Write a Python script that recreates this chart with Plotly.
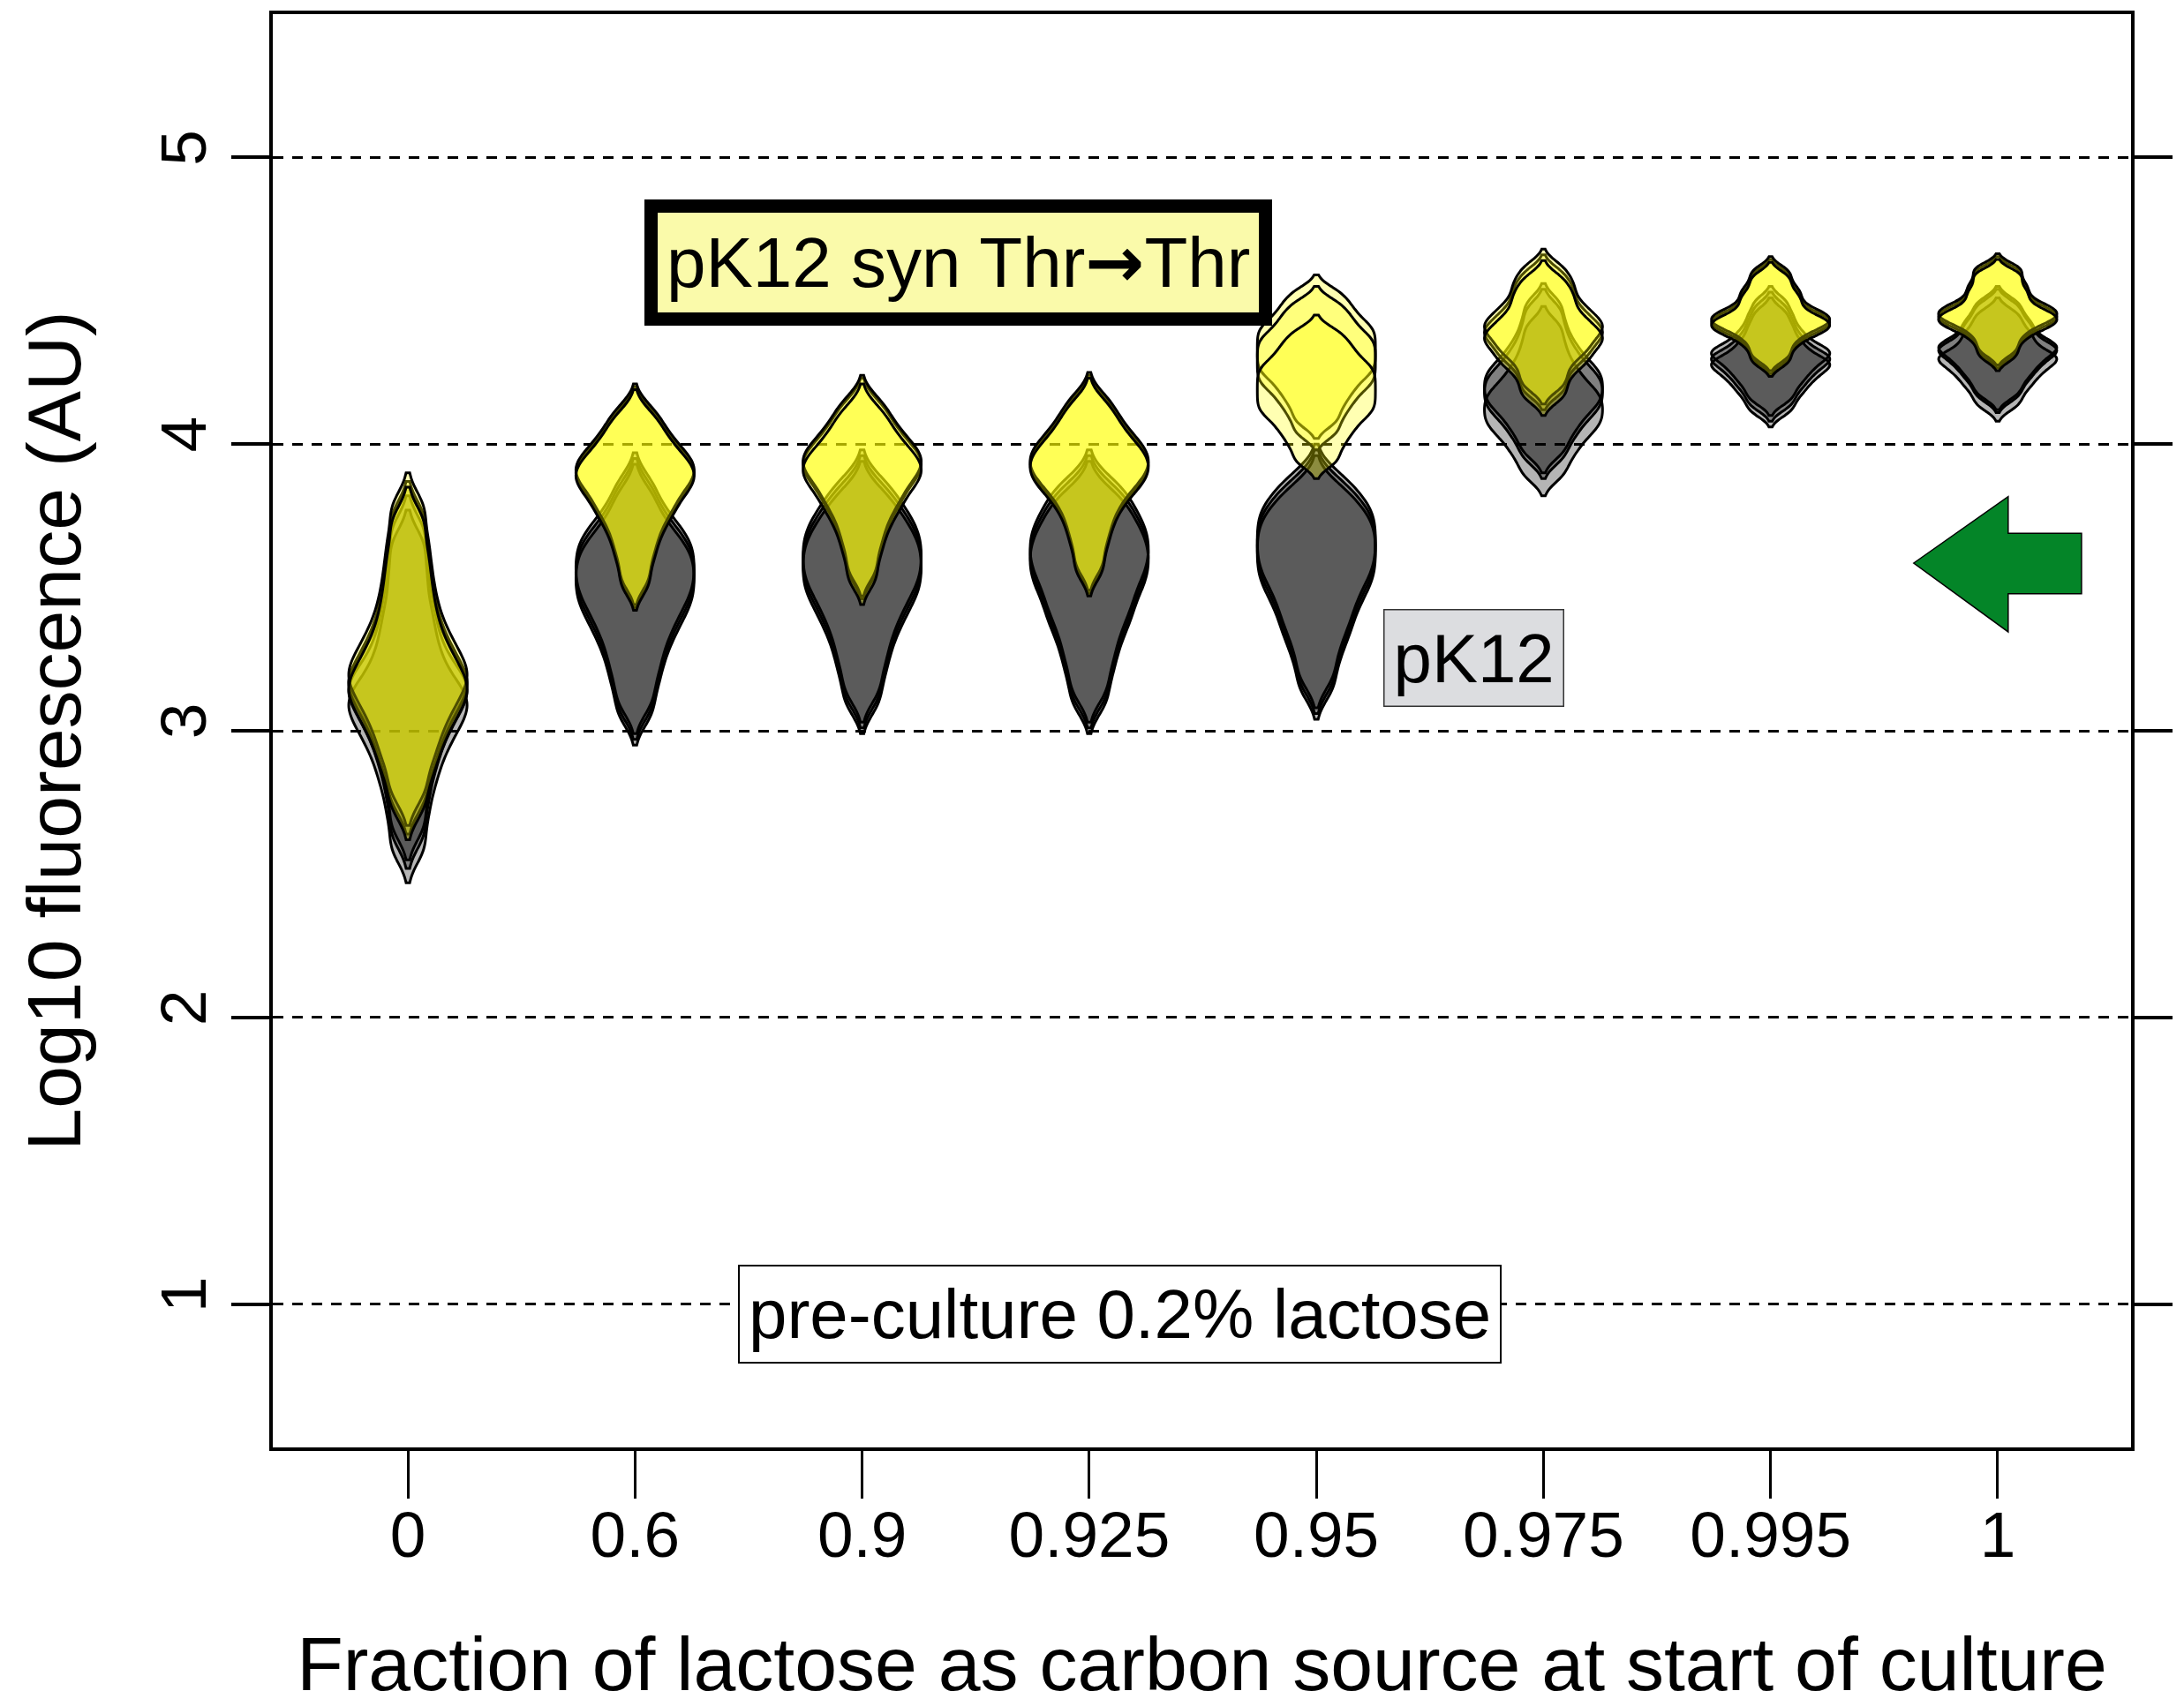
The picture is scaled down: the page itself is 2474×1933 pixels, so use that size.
import plotly.graph_objects as go

# Fraction of lactose in the medium at the start of culture
categories = ["0", "0.6", "0.9", "0.925", "0.95", "0.975", "0.995", "1"]

# Log10 fluorescence samples per condition, strain pK12
pk12_0 = [2.64, 2.75, 2.84, 2.91, 2.97, 3.02, 3.06, 3.10, 3.13, 3.16, 3.19, 3.23, 3.28, 3.34, 3.41, 3.49, 3.59, 3.70]
pk12_06 = [3.08, 3.17, 3.24, 3.30, 3.35, 3.39, 3.43, 3.46, 3.49, 3.52, 3.55, 3.58, 3.61, 3.64, 3.67, 3.71, 3.76, 3.84]
pk12_09 = [3.12, 3.21, 3.28, 3.34, 3.39, 3.43, 3.47, 3.50, 3.53, 3.56, 3.59, 3.62, 3.65, 3.68, 3.71, 3.75, 3.79, 3.85]
pk12_0925 = [3.12, 3.21, 3.28, 3.34, 3.39, 3.43, 3.47, 3.51, 3.54, 3.57, 3.60, 3.63, 3.66, 3.69, 3.72, 3.76, 3.80, 3.85]
pk12_095 = [3.17, 3.26, 3.33, 3.38, 3.43, 3.47, 3.51, 3.54, 3.57, 3.60, 3.63, 3.66, 3.69, 3.72, 3.75, 3.78, 3.82, 3.87]
pk12_0975 = [3.95, 4.00, 4.04, 4.07, 4.10, 4.12, 4.14, 4.16, 4.18, 4.20, 4.22, 4.24, 4.26, 4.29, 4.32, 4.36, 4.41, 4.47]
pk12_0995 = [4.13, 4.16, 4.19, 4.21, 4.23, 4.25, 4.26, 4.28, 4.29, 4.30, 4.31, 4.32, 4.34, 4.36, 4.38, 4.41, 4.44, 4.48]
pk12_1 = [4.16, 4.19, 4.22, 4.24, 4.26, 4.28, 4.29, 4.31, 4.32, 4.33, 4.34, 4.35, 4.37, 4.39, 4.41, 4.43, 4.46, 4.49]

# Log10 fluorescence samples per condition, strain pK12 syn Thr->Thr
syn_0 = [2.76, 2.86, 2.93, 2.99, 3.04, 3.08, 3.12, 3.15, 3.18, 3.21, 3.25, 3.29, 3.34, 3.40, 3.47, 3.55, 3.64, 3.75]
syn_06 = [3.52, 3.60, 3.66, 3.71, 3.75, 3.78, 3.81, 3.84, 3.86, 3.88, 3.90, 3.92, 3.94, 3.96, 3.99, 4.02, 4.06, 4.11]
syn_09 = [3.55, 3.63, 3.69, 3.74, 3.78, 3.81, 3.84, 3.87, 3.89, 3.91, 3.93, 3.95, 3.97, 3.99, 4.02, 4.05, 4.09, 4.14]
syn_0925 = [3.57, 3.65, 3.71, 3.76, 3.80, 3.83, 3.86, 3.88, 3.90, 3.92, 3.94, 3.96, 3.98, 4.00, 4.03, 4.06, 4.10, 4.15]
syn_095 = [4.06, 4.11, 4.15, 4.18, 4.21, 4.23, 4.25, 4.27, 4.29, 4.31, 4.33, 4.35, 4.37, 4.39, 4.41, 4.44, 4.47, 4.51]
syn_0975 = [4.18, 4.22, 4.26, 4.29, 4.31, 4.33, 4.35, 4.37, 4.38, 4.40, 4.41, 4.43, 4.45, 4.47, 4.50, 4.53, 4.56, 4.60]
syn_0995 = [4.29, 4.32, 4.35, 4.37, 4.39, 4.40, 4.41, 4.42, 4.43, 4.44, 4.45, 4.46, 4.48, 4.50, 4.52, 4.54, 4.57, 4.60]
syn_1 = [4.31, 4.34, 4.37, 4.39, 4.41, 4.42, 4.43, 4.44, 4.45, 4.46, 4.47, 4.48, 4.50, 4.52, 4.54, 4.56, 4.59, 4.61]

# Offset of each biological replicate from the condition's samples
pk12_replicate_shift = [
    [0.0, -0.05, 0.03], [0.0, -0.02, 0.02], [0.0, 0.02, -0.02], [0.0, 0.02, -0.02],
    [0.0, 0.02, -0.02], [0.02, 0.0, -0.06], [0.0, 0.02, -0.02], [0.01, 0.0, -0.03],
]
syn_replicate_shift = [
    [0.0, 0.03, -0.02], [0.0, 0.01, -0.01], [0.0, 0.01, -0.02], [0.0, 0.01, -0.01],
    [0.02, -0.02, -0.12], [0.0, 0.02, -0.02], [0.0, 0.01, -0.01], [0.0, 0.01, -0.01],
]

pk12_samples = [pk12_0, pk12_06, pk12_09, pk12_0925, pk12_095, pk12_0975, pk12_0995, pk12_1]
syn_samples = [syn_0, syn_06, syn_09, syn_0925, syn_095, syn_0975, syn_0995, syn_1]

# KDE bandwidth for each condition
pk12_bw = [0.06, 0.055, 0.055, 0.055, 0.055, 0.035, 0.025, 0.025]
syn_bw = [0.06, 0.045, 0.045, 0.045, 0.03, 0.03, 0.022, 0.022]

FONT = "Liberation Sans"
VIOLIN_WIDTH = 0.52

fig = go.Figure()


def add_strain(samples, shifts, bws, fill):
    for i, base in enumerate(samples):
        for shift in shifts[i]:
            vals = [v + shift for v in base]
            fig.add_trace(go.Violin(
                x=[i] * len(vals), y=vals,
                width=VIOLIN_WIDTH, scalemode="width", spanmode="soft",
                bandwidth=bws[i], points=False,
                box_visible=False, meanline_visible=False,
                fillcolor=fill, line=dict(color="black", width=3),
                hoveron="violins", showlegend=False,
            ))


add_strain(pk12_samples, pk12_replicate_shift, pk12_bw, "rgba(0,0,0,0.29)")
add_strain(syn_samples, syn_replicate_shift, syn_bw, "rgba(255,255,0,0.30)")

fig.update_layout(
    width=2474, height=1933,
    margin=dict(l=309, r=60, t=13, b=290, pad=0),
    plot_bgcolor="white", paper_bgcolor="white",
    violinmode="overlay", showlegend=False,
    font=dict(family=FONT, color="black"),
)

fig.update_xaxes(
    range=[-0.595, 7.587],
    tickvals=list(range(len(categories))), ticktext=categories,
    ticks="outside", ticklen=54, tickwidth=2.5, tickcolor="black",
    ticklabelstandoff=-22,
    showline=True, linewidth=4, linecolor="black", mirror=True,
    showgrid=False, zeroline=False,
    tickfont=dict(size=73, family=FONT),
    title=dict(text="Fraction of lactose as carbon source at start of culture",
               font=dict(size=86, family=FONT), standoff=82),
)

fig.update_yaxes(
    range=[0.5, 5.5], tickvals=[1, 2, 3, 4, 5],
    ticks="outside", ticklen=43, tickwidth=3.5, tickcolor="black",
    showline=True, linewidth=4, linecolor="black", mirror="ticks",
    showgrid=True, gridcolor="black", gridwidth=2.5, griddash="12px,10px",
    zeroline=False, tickangle=-90,
    tickfont=dict(size=73, family=FONT),
    title=dict(text="Log10 fluorescence (AU)", font=dict(size=86, family=FONT), standoff=48),
)

fig.add_annotation(
    x=2.425, y=4.634, xref="x", yref="y",
    text="pK12 syn Thr<span style=\"font-family:'DejaVu Sans'\"><b>\u2192</b></span>Thr",
    showarrow=False,
    font=dict(size=80, family=FONT, color="black"),
    bgcolor="#fafaaa", bordercolor="black", borderwidth=15, borderpad=10,
)
fig.add_annotation(
    x=4.695, y=3.253, xref="x", yref="y",
    text="pK12", showarrow=False,
    font=dict(size=78, family=FONT, color="black"),
    bgcolor="#dcdde0", bordercolor="#333333", borderwidth=1.5, borderpad=10,
)
fig.add_annotation(
    x=3.136, y=0.964, xref="x", yref="y",
    text="pre-culture 0.2% lactose", showarrow=False,
    font=dict(size=78, family=FONT, color="black"),
    bgcolor="white", bordercolor="black", borderwidth=2, borderpad=10,
)

# Green block arrow marking the reference condition
fig.add_shape(
    type="path", xref="x", yref="y",
    path="M 6.630,3.585 L 7.046,3.817 L 7.046,3.689 L 7.369,3.689 "
         "L 7.369,3.478 L 7.046,3.478 L 7.046,3.345 Z",
    fillcolor="#048528", line=dict(color="black", width=1.5),
)

fig.write_html("out.html")
